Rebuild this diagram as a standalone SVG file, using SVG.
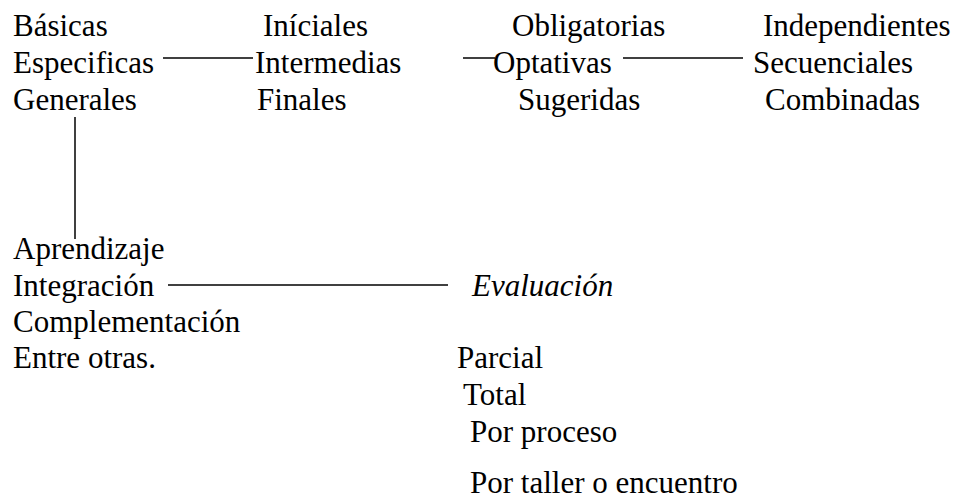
<svg xmlns="http://www.w3.org/2000/svg" width="958" height="499" viewBox="0 0 958 499">
<style>
line{stroke:#000;stroke-width:1.5}
</style>
<rect width="958" height="499" fill="#fff"/>
<g id="connectors">
<line x1="163" y1="58" x2="253" y2="58"/>
<line x1="463" y1="58" x2="495" y2="58"/>
<line x1="623" y1="58" x2="743" y2="58"/>
<line x1="75" y1="117" x2="75" y2="239"/>
<line x1="168" y1="285" x2="448" y2="285"/>
</g>
<g font-family="Liberation Serif, serif" font-size="31" fill="#000">
<g id="col1"><text x="13" y="36">Básicas</text><text x="13" y="73">Especificas</text><text x="13" y="110">Generales</text></g>
<g id="col2"><text x="263" y="36">Iníciales</text><text x="255" y="73">Intermedias</text><text x="257" y="110">Finales</text></g>
<g id="col3"><text x="512" y="36">Obligatorias</text><text x="493" y="73">Optativas</text><text x="518" y="110">Sugeridas</text></g>
<g id="col4"><text x="763" y="36">Independientes</text><text x="753" y="73">Secuenciales</text><text x="765" y="110">Combinadas</text></g>
<g id="col5"><text x="13" y="259">Aprendizaje</text><text x="13" y="296">Integración</text><text x="13" y="332">Complementación</text><text x="13" y="368">Entre otras.</text></g>
<g id="evaluacion"><text font-style="italic" x="472" y="296">Evaluación</text></g>
<g id="col6"><text x="457" y="368">Parcial</text><text x="463" y="405">Total</text><text x="470" y="442">Por proceso</text><text x="470" y="493">Por taller o encuentro</text></g>
</g>
</svg>
